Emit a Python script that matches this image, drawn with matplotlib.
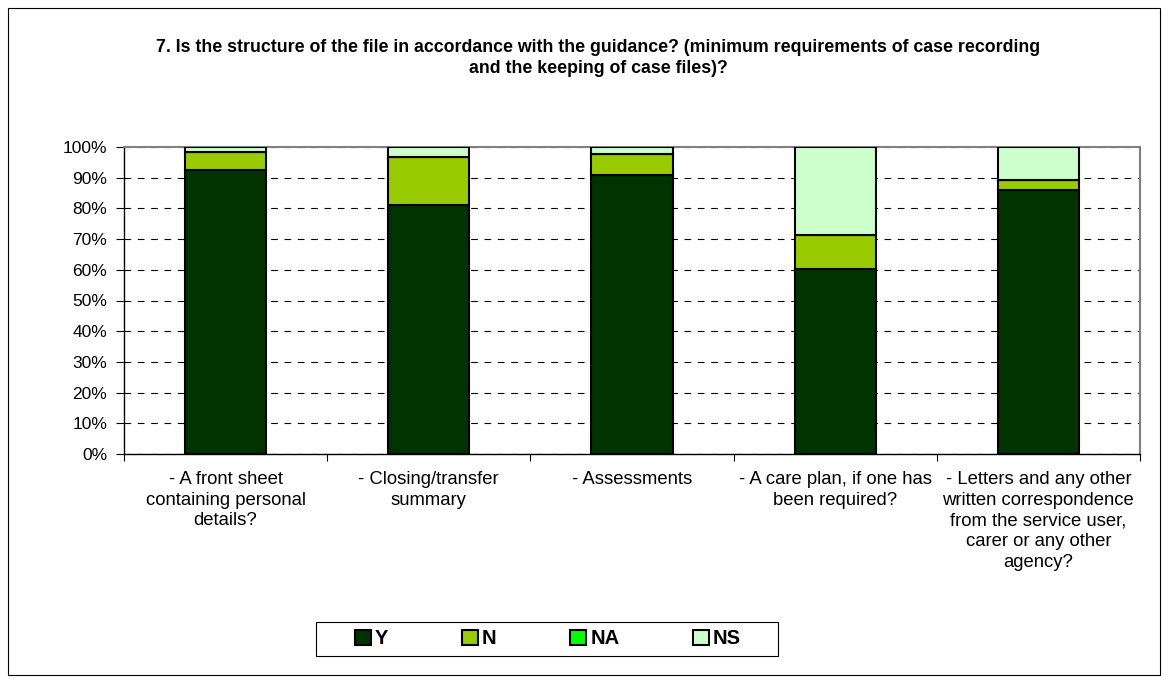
import matplotlib.pyplot as plt
import numpy as np
from matplotlib.patches import Rectangle
from matplotlib.ticker import PercentFormatter

categories = [
    "- A front sheet\ncontaining personal\ndetails?",
    "- Closing/transfer\nsummary",
    "- Assessments",
    "- A care plan, if one has\nbeen required?",
    "- Letters and any other\nwritten correspondence\nfrom the service user,\ncarer or any other\nagency?",
]
series = ["Y", "N", "NA", "NS"]
y_vals = [92.4, 81.0, 91.0, 60.2, 85.9]
n_vals = [6.0, 15.7, 6.7, 11.1, 3.3]
na_vals = [0.0, 0.0, 0.0, 0.0, 0.0]
ns_vals = [1.6, 3.3, 2.3, 28.7, 10.8]
colors = ["#003300", "#99CC00", "#00FF00", "#CCFFCC"]

plt.rcParams['font.family'] = ['Liberation Sans', 'DejaVu Sans']

W, H = 1169, 683
fig = plt.figure(figsize=(W / 100, H / 100), dpi=100)
# outer chart border
fig.patches.append(Rectangle((8 / W, 8 / H), 1152 / W, 667 / H,
                             transform=fig.transFigure, fill=False,
                             edgecolor="black", linewidth=0.8))

ax = fig.add_axes([124 / W, 1 - 454 / H, 1016 / W, 307 / H])

x = np.arange(len(categories))
bottom = np.zeros(len(categories))
for name, vals, col in zip(series, [y_vals, n_vals, na_vals, ns_vals], colors):
    ax.bar(x, vals, width=0.4, bottom=bottom, color=col, edgecolor="black",
           linewidth=1.5, label=name, zorder=3)
    bottom += np.array(vals)

ax.set_xlim(-0.5, len(categories) - 0.5)
ax.set_ylim(0, 100)
ax.set_yticks(np.arange(0, 101, 10))
ax.yaxis.set_major_formatter(PercentFormatter(decimals=0))
ax.set_xticks(np.arange(len(categories) + 1) - 0.5)
ax.set_xticklabels([])
ax.set_xticks(x, minor=True)
ax.set_xticklabels(categories, minor=True, fontsize=13.3, va="top", linespacing=1.3)
ax.tick_params(axis="x", which="minor", length=0, pad=12)
ax.tick_params(axis="x", which="major", length=5, direction="out", color="black")
ax.tick_params(axis="y", length=6, direction="out", labelsize=12.5, pad=6)
ax.yaxis.grid(True, color="black", linestyle=(0, (6, 6)), linewidth=0.8, zorder=0)
for side in ["top", "right"]:
    ax.spines[side].set_color("#808080")
    ax.spines[side].set_linewidth(1.5)
for side in ["left", "bottom"]:
    ax.spines[side].set_color("black")
    ax.spines[side].set_linewidth(1)

fig.text(598 / W, 1 - 58 / H,
         "7. Is the structure of the file in accordance with the guidance? (minimum requirements of case recording\nand the keeping of case files)?",
         ha="center", va="center", fontsize=12.8, fontweight="bold", linespacing=1.33)

# legend box drawn separately so the padding can differ by side
fig.patches.append(Rectangle((316 / W, 1 - 656 / H), 462 / W, 34 / H,
                             transform=fig.transFigure, fill=False,
                             edgecolor="black", linewidth=0.8))
fig.legend(loc="center", bbox_to_anchor=(548 / W, 1 - 639 / H), ncol=4,
           frameon=False, prop={"weight": "bold", "size": 14.5},
           handlelength=0.8, handleheight=0.8, handletextpad=0.2,
           columnspacing=3.65, borderpad=0)

fig.savefig("out.png", dpi=100)
